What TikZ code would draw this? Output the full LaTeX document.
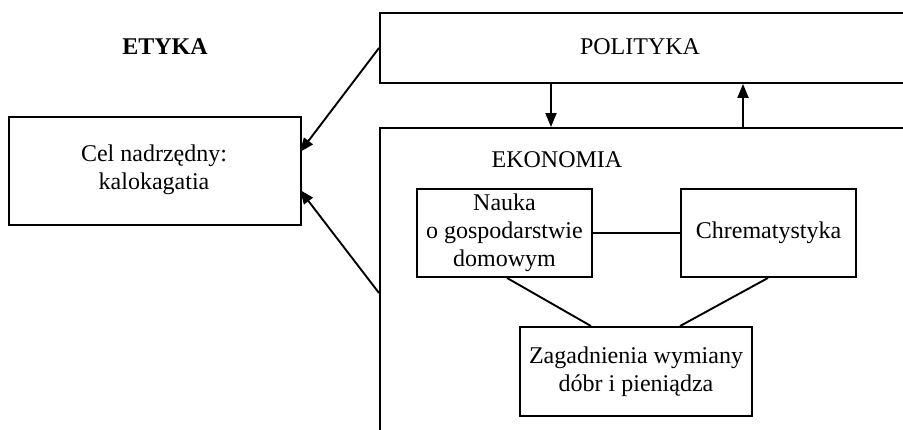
\documentclass[tikz,border=0pt]{standalone}
\usepackage{fontspec}
\setmainfont{Liberation Serif}
\usetikzlibrary{arrows.meta,calc}
\begin{document}
\begin{tikzpicture}[x=1pt,y=-1pt,
  every node/.style={font=\fontsize{24}{28}\selectfont,align=center},
  box/.style={draw,line width=1.9pt,rectangle,inner sep=0pt,align=center},
  link/.style={line width=1.9pt},
  arr/.style={line width=1.9pt,-{Triangle[length=14pt,width=11pt]}}]
\useasboundingbox (0,0) rectangle (903,429);
\clip (0,0) rectangle (903,429);
% outer frames running off the page
\node[box,minimum width=600pt,minimum height=70pt,anchor=north west] (polit) at (379,12) {};
\node[box,minimum width=600pt,minimum height=360pt,anchor=north west] (ekon) at (379,127) {};
\node at (640,47) (politlabel) {POLITYKA};
\node at (557,160) (ekonlabel) {EKONOMIA};
\node[font=\fontsize{24}{28}\selectfont\bfseries] at (165,47) (etyka) {ETYKA};
% goal box
\node[box,minimum width=292pt,minimum height=108pt,anchor=north west] (cel) at (8,116) {};
\node at (154,170) (cellabel) {Cel nadrzędny:\\kalokagatia};
% inner boxes
\node[box,minimum width=175pt,minimum height=88pt] (nauka) at (504.5,233) {Nauka\\o gospodarstwie\\domowym};
\node[box,minimum width=175pt,minimum height=88pt] (chrem) at (768.5,233) {Chrematystyka};
\node[box,minimum width=232pt,minimum height=89pt] (zag) at (636,371.5) {Zagadnienia wymiany\\dóbr i pieniądza};
% connectors
\coordinate (pA) at (379,48);
\coordinate (eA) at (379,293);
\coordinate (cA) at (300,152);
\coordinate (cB) at (300,190);
\draw[arr] (pA) -- (cA);
\draw[arr] (eA) -- (cB);
\draw[arr] (polit.south -| 551,0) -- (ekon.north -| 551,0);
\draw[arr] (ekon.north -| 743,0) -- (polit.south -| 743,0);
\draw[link] (nauka.east) -- (chrem.west);
\draw[link] (nauka.south -| 507,0) -- (zag.north -| 591,0);
\draw[link] (chrem.south -| 768,0) -- (zag.north -| 680,0);
\end{tikzpicture}
\end{document}
